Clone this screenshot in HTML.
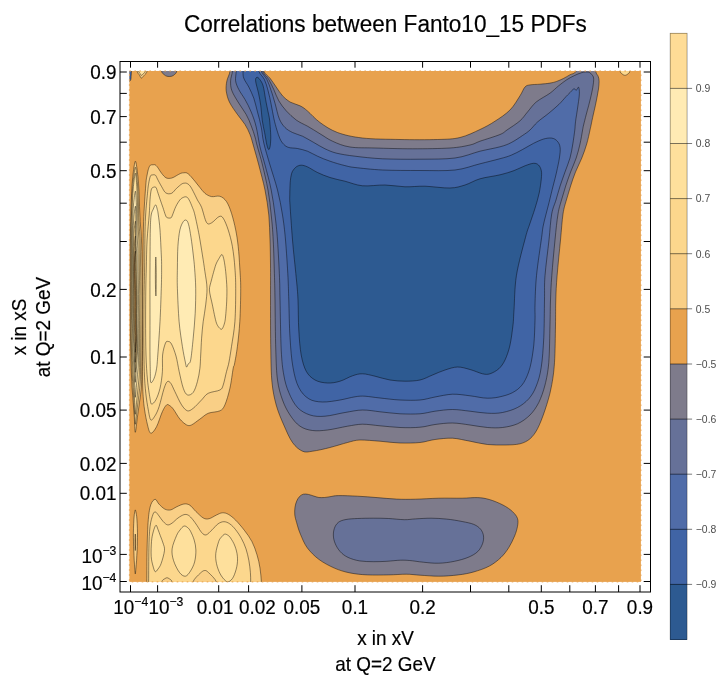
<!DOCTYPE html>
<html lang="en">
<head>
<meta charset="utf-8">
<title>Correlations between Fanto10_15 PDFs</title>
<style>html,body{margin:0;padding:0;background:#fff}svg{display:block}</style>
</head>
<body>
<svg width="721" height="679" viewBox="0 0 721 679">
<rect width="721" height="679" fill="#fff"/>
<defs><clipPath id="pc"><rect x="129.4" y="71" width="511.5" height="510.9"/></clipPath></defs>
<rect x="129.4" y="71" width="511.5" height="510.9" fill="#e8a24e"/>
<g clip-path="url(#pc)" stroke="#000" stroke-opacity=".62" stroke-width=".7" stroke-linejoin="round">
<path fill="#7e7b8b" d="M229.5 58C229.6 60.2 230.4 67.2 230 71C229.6 74.8 227.5 77.5 226.9 80.8C226.3 84 225.8 87.2 226.2 90.8C226.7 94.3 227.5 98 229.4 102C231.3 106 234.9 110.8 237.5 114.5C240.1 118.2 242.9 121.2 245 124.5C247.1 127.8 248.5 130.8 250 134.5C251.5 138.2 252.3 141.9 253.8 147C255.2 152.1 256.9 157.8 258.8 165C260.6 172.2 263.3 181.7 265 190C266.7 198.3 267.9 206.7 268.8 215C269.6 223.3 269.7 231.7 270 240C270.3 248.3 270.4 255 270.5 265C270.6 275 270.5 285.8 270.5 300C270.5 314.2 270.5 336.2 270.8 350C271 363.8 271.1 373.3 272 382.5C272.9 391.7 274.3 397.9 276.2 405C278.2 412.1 281 418.8 283.8 425C286.5 431.2 289.4 438.1 292.5 442.5C295.6 446.9 299.2 449.8 302.5 451.2C305.8 452.7 307.9 451.9 312.5 451.2C317.1 450.6 324.2 449 330 447.5C335.8 446 342.5 443.8 347.5 442.5C352.5 441.2 354.6 440.2 360 440C365.4 439.8 373.3 440.8 380 441.2C386.7 441.8 393.3 442.8 400 443C406.7 443.2 414.2 443.1 420 442.5C425.8 441.9 429.6 440.2 435 439.5C440.4 438.8 446.7 438 452.5 438.2C458.3 438.5 464.2 440.2 470 441.2C475.8 442.3 481.7 443.9 487.5 444.5C493.3 445.1 499.6 445.1 505 445C510.4 444.9 515.8 444.8 520 443.8C524.2 442.7 527.1 441.2 530 438.8C532.9 436.2 535 433.5 537.5 428.8C540 424 542.7 416.9 545 410C547.3 403.1 549.7 395.4 551.2 387.5C552.8 379.6 553.8 372.9 554.5 362.5C555.2 352.1 555.3 335.4 555.5 325C555.7 314.6 555.5 308.2 555.8 300C556 291.8 556.3 285.7 557.1 275.7C557.9 265.7 559.5 250.3 560.5 240C561.5 229.7 562 220.7 563 214C564 207.3 565.1 204.7 566.4 200C567.7 195.3 569.1 190.7 570.6 186C572.1 181.3 573.6 176.7 575.5 172C577.4 167.3 579.9 162.7 581.8 158C583.7 153.3 585.3 148.7 586.7 144C588.1 139.3 589.3 133.2 590 130C590.7 126.8 590.6 127.5 591.1 125C591.6 122.5 592.5 118.2 593.2 115C593.9 111.8 594.7 108.7 595.3 105.8C595.9 102.9 596.5 100.2 597 97.4C597.5 94.6 598.1 91.7 598.5 89C598.9 86.3 599.1 83.5 599.1 81.4C599.1 79.3 598.8 78.1 598.2 76.4C597.6 74.7 596.2 74.3 595.7 71.2C595.2 68.1 595.1 60.2 595 58L581 58C580.2 60.2 577.8 68.6 576 71.4C574.2 74.2 572.2 73.5 570.1 74.7C568 75.9 565.6 77.4 563.4 78.5C561.2 79.6 558.9 80.6 556.7 81.4C554.5 82.2 552.8 82.6 550 83.1C547.2 83.6 543.3 83.9 540 84.2C536.7 84.5 532.5 84.4 530 84.9C527.5 85.4 526.7 85.2 525 87C523.3 88.8 522.5 91.9 520 95.8C517.5 99.6 514.2 105.8 510 110C505.8 114.2 500 118 495 121.2C490 124.5 485.8 126.8 480 129.5C474.2 132.2 467.1 135.8 460 137.5C452.9 139.2 447.5 139.2 437.5 139.5C427.5 139.8 412.5 139.8 400 139.5C387.5 139.2 372.9 139.2 362.5 138C352.1 136.8 344.6 135.1 337.5 132.5C330.4 129.9 325 126.1 320 122.5C315 118.9 310.8 113.8 307.5 111C304.2 108.2 302.9 107.2 300 105.8C297.1 104.2 292.9 103.7 290 102C287.1 100.3 284.8 98.2 282.5 95.8C280.2 93.2 278.3 89.9 276.2 87C274.2 84.1 272.1 80.9 270 78.2C267.9 75.6 265 74.4 263.8 71C262.5 67.6 262.7 60.2 262.5 58Z"/>
<path fill="#667198" d="M233 58C232.9 60.2 232.9 67.2 232.5 71C232.1 74.8 230.7 77.5 230.6 80.8C230.5 84 230.5 87 231.9 90.8C233.3 94.5 236.4 99.3 238.8 103.2C241.1 107.2 244.2 110.8 246.2 114.5C248.3 118.2 249.8 122 251.2 125.8C252.7 129.5 254 133.5 255 137C256 140.5 256.2 142.3 257.5 147C258.8 151.7 260.8 157.8 262.5 165C264.2 172.2 266.5 181.7 268 190C269.5 198.3 270.4 206.7 271.2 215C272.1 223.3 272.7 229.6 273.2 240C273.8 250.4 274.2 267.5 274.5 277.5C274.8 287.5 274.8 287.9 275 300C275.2 312.1 275.3 336.7 275.8 350C276.2 363.3 276.4 371.7 277.5 380C278.6 388.3 280.4 394.2 282.5 400C284.6 405.8 287.1 410.6 290 415C292.9 419.4 296.2 423.7 300 426.2C303.8 428.8 307.9 429.9 312.5 430.5C317.1 431.1 321.7 430.7 327.5 430C333.3 429.3 341.7 427.2 347.5 426.2C353.3 425.3 357.1 424.3 362.5 424.2C367.9 424.2 373.8 425.2 380 425.8C386.2 426.3 393.3 427.2 400 427.5C406.7 427.8 414.2 427.8 420 427.2C425.8 426.8 429.6 425.2 435 424.5C440.4 423.8 446.7 422.9 452.5 423C458.3 423.1 464.2 424.2 470 425C475.8 425.8 482.1 427.1 487.5 427.5C492.9 427.9 497.5 428.1 502.5 427.5C507.5 426.9 512.9 425.8 517.5 423.8C522.1 421.7 526.5 418.5 530 415C533.5 411.5 536.2 407.5 538.8 402.5C541.2 397.5 543.3 391.7 545 385C546.7 378.3 547.9 372.5 548.8 362.5C549.6 352.5 549.7 335.4 550 325C550.3 314.6 550.2 308.2 550.5 300C550.8 291.8 551 285.7 551.8 275.7C552.5 265.7 554 250.3 555 240C556 229.7 556.9 220.7 558 214C559.1 207.3 560.2 204.7 561.5 200C562.8 195.3 564.2 190.7 565.7 186C567.2 181.3 568.9 176.7 570.6 172C572.4 167.3 574.6 162.7 576.2 158C577.8 153.3 578.9 148.7 580 144C581.1 139.3 582 133.2 582.6 130C583.2 126.8 583 127.5 583.6 125C584.2 122.5 585.3 118.2 586.1 115C586.9 111.8 587.8 109 588.6 105.8C589.4 102.6 590.3 99.2 591.1 95.7C591.9 92.2 592.8 87.7 593.2 84.8C593.6 81.9 593.8 79.8 593.6 78.1C593.4 76.4 592.7 75.7 591.9 74.7C591.1 73.7 590.3 72.6 588.6 72.2C586.9 71.8 584.3 72 581.9 72.6C579.5 73.2 576.8 74.4 574.3 75.6C571.8 76.8 569.4 78 566.8 79.7C564.1 81.4 561.2 83.8 558.4 86C555.6 88.2 553.7 90.5 550 93.2C546.3 95.9 540 98.9 536.2 102C532.5 105.1 530.2 108.9 527.5 112C524.8 115.1 523.4 117.8 520 120.8C516.6 123.8 510.3 127.7 507 130C503.7 132.3 504.5 132.6 500 134.5C495.5 136.4 485 139.5 480 141.2C475 143 475 143.9 470 145C465 146.1 459.6 147.4 450 148C440.4 148.6 425 148.8 412.5 148.8C400 148.8 385.4 148.3 375 148C364.6 147.7 357.1 148.1 350 147C342.9 145.9 337.5 143.5 332.5 141.2C327.5 139 324.2 136.2 320 133.8C315.8 131.2 311.5 128.5 307.5 126.2C303.5 124 299.8 122.6 296.2 120C292.7 117.4 289.2 114 286.2 110.8C283.3 107.5 280.8 104.3 278.8 100.8C276.7 97.2 275.4 93 273.8 89.5C272.1 86 270.6 82.6 268.8 79.5C266.9 76.4 263.8 74.6 262.5 71C261.2 67.4 261.2 60.2 261 58Z"/>
<path fill="#506ca8" d="M236.5 58C236.5 60.2 236.4 67.2 236.2 71C236.1 74.8 235.2 77.7 235.6 80.8C236 83.8 237.2 86.4 238.8 89.5C240.3 92.6 242.9 95.8 245 99.5C247.1 103.2 249.4 107.4 251.2 112C253.1 116.6 254.8 121.2 256.2 127C257.7 132.8 258.5 140.7 260 147C261.5 153.3 263.1 157.8 265 165C266.9 172.2 269.6 181.7 271.2 190C272.9 198.3 274 206.7 275 215C276 223.3 276.8 229.6 277.5 240C278.2 250.4 279.1 267.5 279.5 277.5C279.9 287.5 279.7 287.9 280 300C280.3 312.1 280.6 337.5 281.2 350C281.9 362.5 282.5 367.9 283.8 375C285 382.1 286.5 387.1 288.8 392.5C291 397.9 294 403.8 297.5 407.5C301 411.2 305.4 413.5 310 415C314.6 416.5 319.2 416.7 325 416.2C330.8 415.8 338.8 413.5 345 412.5C351.2 411.5 356.7 410.1 362.5 410C368.3 409.9 373.8 411.1 380 411.8C386.2 412.4 393.3 413.4 400 413.8C406.7 414.1 414.2 414.2 420 413.8C425.8 413.3 429.6 412 435 411.2C440.4 410.5 446.7 409.5 452.5 409.5C458.3 409.5 464.2 410.6 470 411.2C475.8 411.9 482.1 413 487.5 413.2C492.9 413.5 497.5 413.5 502.5 412.5C507.5 411.5 513.1 409.8 517.5 407.5C521.9 405.2 525.6 402.3 528.8 398.8C531.9 395.2 534.2 391.5 536.2 386.2C538.3 381 540 375.6 541.2 367.5C542.5 359.4 543.2 348.8 543.8 337.5C544.3 326.2 544.3 310.3 544.5 300C544.7 289.7 544.2 285.7 545 275.7C545.8 265.7 547.9 250.3 549 240C550.1 229.7 550.5 220.7 551.7 214C552.9 207.3 554.6 204.7 556 200C557.4 195.3 558.6 190.7 560.1 186C561.6 181.3 563.4 176.7 565 172C566.6 167.3 568.7 162.7 570 158C571.3 153.3 572 148.7 572.8 144C573.6 139.3 574.4 133.2 574.8 130C575.2 126.8 575 127 575.2 125C575.4 123 575.6 120.8 576 118.3C576.4 115.8 576.9 112.8 577.3 110C577.7 107.2 578.1 104.4 578.5 101.6C578.9 98.8 579.4 95.6 579.4 93.2C579.4 90.8 579.1 87.7 578.6 87.2C578.1 86.7 577 90.1 576.2 90.3C575.4 90.5 574.8 88.4 574 88.6C573.2 88.8 572.5 90.1 571.2 91.4C570 92.7 568.3 94.2 566.2 96.4C564.2 98.6 561.7 101.7 558.8 104.5C555.8 107.3 552.3 110.3 548.8 113.2C545.2 116.2 540.6 119.2 537.5 122C534.4 124.8 532.5 127.7 530 130C527.5 132.3 525.5 133.5 522.4 135.6C519.3 137.7 514.9 140.7 511.2 142.6C507.5 144.5 505.2 145.4 500 146.8C494.8 148.2 487.5 149.4 480 151.2C472.5 153.1 465 156.7 455 158C445 159.3 432.1 159.1 420 159.2C407.9 159.4 393.3 159.2 382.5 158.8C371.7 158.2 362.7 157.2 355 156.2C347.3 155.3 341.2 154.3 336.2 153.1C331.2 151.8 328.8 150.5 325 148.8C321.2 147 317.5 144.6 313.8 142.5C310 140.4 306 137.9 302.5 136.2C299 134.6 295.4 134 292.5 132.5C289.6 131 287.2 129.8 285 127.5C282.8 125.2 281.1 123 279.4 119C277.7 115 276.4 108 275 103.2C273.6 98.5 272.6 94.7 271.2 90.8C269.9 86.8 268.6 82.8 266.9 79.5C265.2 76.2 262.4 74.6 261.2 71C260.1 67.4 260.2 60.2 260 58Z"/>
<path fill="#4064a5" d="M243 58C243 60.2 242.9 67.6 243 71C243.1 74.4 242.8 75.6 243.8 78.2C244.7 80.9 247.1 83.7 248.8 87C250.4 90.3 252.3 94.1 253.8 98.2C255.2 102.4 256.2 107.2 257.5 112C258.8 116.8 260.2 121.8 261.2 127C262.3 132.2 262.3 136.7 263.8 143C265.2 149.3 267.7 157.2 270 165C272.3 172.8 275.4 181.7 277.5 190C279.6 198.3 281.2 206.7 282.5 215C283.8 223.3 284.6 229.6 285.5 240C286.4 250.4 287.5 267.5 288 277.5C288.5 287.5 288.4 290 288.8 300C289.1 310 289.3 326.2 290 337.5C290.7 348.8 291.5 359.2 293 367.5C294.5 375.8 296.1 382.3 298.8 387.5C301.4 392.7 304.8 396.3 308.8 398.8C312.7 401.2 317.3 401.8 322.5 402C327.7 402.2 334.6 400.9 340 400C345.4 399.1 350.8 397.4 355 396.8C359.2 396.1 360.8 396 365 396.2C369.2 396.5 374.2 397.4 380 398C385.8 398.6 393.3 399.7 400 400C406.7 400.3 414.2 400.5 420 400C425.8 399.5 429.6 398 435 397C440.4 396 446.7 394.5 452.5 394.2C458.3 394 464.2 395.1 470 395.8C475.8 396.4 482.1 398.2 487.5 398.2C492.9 398.3 497.9 397.4 502.5 396.2C507.1 395.1 511.5 393.5 515 391.2C518.5 389 521.2 386.5 523.8 382.5C526.2 378.5 528.3 373.8 530 367.5C531.7 361.2 532.9 352.9 533.8 345C534.6 337.1 534.8 326.7 535 320C535.2 313.3 534.8 312.4 535 305C535.2 297.6 535.4 287 536.5 275.7C537.6 264.4 540.5 245.8 541.6 237.4C542.8 229 542.2 230.8 543.4 225C544.6 219.2 547.4 209.2 549 202.7C550.6 196.2 551.8 191.1 553.1 186C554.4 180.9 555.6 176.7 556.6 172C557.6 167.3 558.8 162.1 559.4 158C560 153.9 560.5 150.3 560.1 147.5C559.8 144.7 558.7 142.8 557.3 141.2C555.9 139.6 554 138.4 551.7 138.1C549.4 137.8 546.4 138.2 543.4 139.1C540.4 140 537.1 141.6 533.6 143.3C530.1 145.1 526.1 147.6 522.4 149.6C518.7 151.6 514.9 153.7 511.2 155.2C507.5 156.7 505.2 157.3 500 158.7C494.8 160.1 487.5 161.9 480 163.8C472.5 165.6 465 168.9 455 170C445 171.1 432.1 170.5 420 170.5C407.9 170.5 393.3 170.5 382.5 170C371.7 169.5 361.3 168.2 355 167.5C348.7 166.8 349.1 166.6 344.9 165.6C340.7 164.6 334.6 162.8 330 161.2C325.4 159.7 321.2 157.9 317.5 156.2C313.8 154.6 310.8 152.5 307.5 151.2C304.2 150 300.6 149.1 297.5 148.5C294.4 147.9 291 148.2 288.8 147.5C286.5 146.8 285.2 145.9 283.8 144.4C282.3 142.9 281.1 141.2 280 138.8C278.9 136.3 277.9 133.4 276.9 130C275.9 126.6 274.7 122.5 273.8 118.2C272.8 114 272.2 109.1 271.2 104.5C270.3 99.9 269.2 94.9 268.1 90.8C267 86.6 266 82.8 264.4 79.5C262.8 76.2 259.9 74.6 258.8 71C257.6 67.4 257.7 60.2 257.5 58Z"/>
<path fill="#2d5a91" d="M301.2 165.2C299.4 165.2 297.7 165.9 296.2 166.9C294.8 167.9 293.4 169.7 292.5 171.2C291.6 172.8 291.4 174.4 291 176.2C290.6 178.1 290.5 179.4 290.2 182.5C290 185.6 289.8 191.3 289.8 195C289.7 198.7 289.5 197.4 290 204.9C290.5 212.4 291.5 227.9 292.5 240C293.5 252.1 295.3 267.5 296.2 277.5C297.2 287.5 297.6 291.2 298 300C298.4 308.8 298.2 320.8 298.8 330C299.3 339.2 300 348.1 301.2 355C302.5 361.9 304 367.1 306.2 371.2C308.5 375.4 311.5 378 315 380C318.5 382 323.3 382.8 327.5 383C331.7 383.2 335.8 382.5 340 381.2C344.2 380 348.8 377 352.5 375.8C356.2 374.5 358.8 373.7 362.5 373.8C366.2 373.8 370.4 375.2 375 376.2C379.6 377.3 385 379.2 390 380C395 380.8 400 381.2 405 381.2C410 381.2 415.4 381 420 380C424.6 379 428.3 376.7 432.5 375C436.7 373.3 440.8 371.3 445 370C449.2 368.7 453.3 367.1 457.5 367C461.7 366.9 465.8 368.4 470 369.5C474.2 370.6 479.2 373 482.5 373.8C485.8 374.5 487.3 374.6 490 373.8C492.7 372.9 496.2 371 498.8 368.8C501.2 366.5 503.1 364 505 360C506.9 356 508.7 350.8 510 345C511.3 339.2 512.3 330.8 513 325C513.7 319.2 513.4 318.2 514 310C514.6 301.8 514.5 287.8 516.4 275.7C518.3 263.6 523.3 245.8 525.5 237.4C527.7 229 527.8 229.8 529.4 225C531 220.2 533.4 213.6 535 208.3C536.6 203 538.2 197.9 539.2 193C540.2 188.1 540.9 182.7 541.3 179C541.6 175.3 541.8 172.9 541.3 170.6C540.8 168.3 539.8 166.2 538.5 165C537.2 163.8 535.8 163.2 533.6 163.3C531.4 163.4 528.5 164.5 525.2 165.7C521.9 166.9 518.2 169.1 514 170.6C509.8 172.1 505.7 173.4 500 174.8C494.3 176.2 485.8 177.1 480 178.8C474.2 180.4 470 183.5 465 185C460 186.5 456.7 187.8 450 188C443.3 188.2 432.5 186.5 425 186.2C417.5 186 411.7 187 405 186.8C398.3 186.5 392.1 185.2 385 185C377.9 184.8 369.2 186.4 362.5 185.8C355.8 185.1 350.3 182.6 344.9 181.2C339.5 179.9 334.6 179 330 177.5C325.4 176 321.2 174.3 317.5 172.5C313.8 170.7 310.2 168.1 307.5 166.9C304.8 165.7 303.1 165.2 301.2 165.2Z"/>
<path fill="#2d5a91" d="M257 77.3C256.3 77.5 255.3 78.1 255.6 80.8C255.8 83.4 257.6 89.1 258.5 93.2C259.4 97.4 260.2 101.3 260.8 105.8C261.4 110.2 261.6 115.5 262.2 120C262.8 124.5 263.8 128.3 264.6 132.5C265.4 136.7 266.2 142.2 266.9 145C267.6 147.8 268.2 149.4 268.8 149.6C269.3 149.8 269.9 147.6 270.2 146C270.5 144.4 270.6 142.2 270.7 140C270.8 137.8 270.8 135.8 270.6 132.5C270.4 129.2 270 123.4 269.6 120C269.2 116.6 268.8 115.4 268.1 112C267.4 108.6 266.4 103.9 265.6 99.5C264.8 95.1 264.1 89.1 263.1 85.8C262.1 82.4 260.8 80.9 259.8 79.5C258.8 78.1 257.7 77.1 257 77.3Z"/>
<path fill="#7e7b8b" d="M303.3 494.2C301.8 494.6 300.5 495.5 299.4 496.7C298.3 497.9 297.4 499.4 296.7 501.1C296 502.9 295.3 504.9 295 507.2C294.7 509.5 294.5 512.5 294.8 515C295.1 517.5 295.7 519.3 296.6 522.5C297.5 525.7 298.6 529.9 300.4 534.1C302.2 538.3 304.1 543.5 307.2 547.7C310.3 551.9 314.3 555.9 318.8 559.3C323.3 562.7 329.2 565.8 334.4 568.1C339.6 570.4 344.4 571.8 349.9 572.9C355.4 574 360.9 574.6 367.4 574.9C373.9 575.2 382.2 575 388.7 574.9C395.2 574.8 401 574.2 406.2 574.2C411.4 574.2 414.6 574.9 420 575.2C425.4 575.5 432.4 576.2 438.8 576.2C445.2 576.2 452.5 575.6 458.3 574.9C464.1 574.2 468.6 573.4 473.8 571.9C479 570.4 484.8 568.5 489.3 566.1C493.8 563.7 497.8 560.5 501 557.4C504.2 554.3 506.4 551.3 508.7 547.7C511 544.1 513.1 539.6 514.6 536C516.1 532.4 517 529.2 517.5 526.3C518 523.4 518.3 520.9 517.5 518.5C516.7 516.1 515 514 512.6 511.7C510.2 509.4 506.8 507 502.9 505C499 503 493.5 500.7 489.3 499.5C485.1 498.3 482.2 497.8 477.7 497.6C473.2 497.4 468.6 498.1 462.1 498.2C455.6 498.3 446.6 498 438.8 498.2C431 498.4 422.6 499 415.5 499.2C408.4 499.4 402.9 499.4 396.5 499.1C390.1 498.8 383.6 498.1 377.1 497.6C370.6 497.1 364.2 496.5 357.7 496.2C351.2 495.9 342.9 495.5 338.3 495.6C333.7 495.7 332.3 496.4 330 496.7C327.7 497 326.2 497.4 324.4 497.5C322.5 497.6 320.6 497.7 318.9 497.5C317.1 497.3 315.7 496.6 313.9 496.1C312.1 495.6 310.1 494.7 308.3 494.4C306.5 494.1 304.8 493.8 303.3 494.2Z"/>
<path fill="#667198" d="M338.3 522.4C336.4 523.9 335.2 526 334.4 528.3C333.6 530.6 333.2 533.4 333.4 536C333.5 538.6 334.2 541.2 335.3 543.8C336.4 546.4 338.1 549.3 340.2 551.6C342.3 553.9 344.8 555.9 348 557.4C351.2 558.9 355.4 560.2 359.6 560.9C363.8 561.6 368.7 561.6 373.2 561.7C377.7 561.8 382.3 561.5 386.8 561.3C391.3 561 396.6 560.3 400.4 560.2C404.2 560.1 405.9 560.2 409.7 560.5C413.5 560.8 418.4 561.8 423.3 562.2C428.2 562.7 433.6 563.4 438.8 563.2C444 563.1 449.5 562.3 454.4 561.3C459.3 560.3 464.1 559 468 557.4C471.9 555.8 475.3 553.9 477.7 551.6C480.1 549.3 481.5 546.4 482.5 543.8C483.5 541.2 483.8 538.4 483.5 536C483.2 533.6 482.2 531.1 480.6 529.2C479 527.3 476.9 525.7 473.8 524.4C470.7 523.1 466.6 522.4 462.1 521.5C457.6 520.6 451.8 519.6 446.6 519.1C441.4 518.6 436.3 518.2 431.1 518.2C425.9 518.2 420 518.6 415.5 518.9C411 519.1 408.8 519.8 404.3 519.7C399.8 519.6 393.9 518.8 388.7 518.5C383.5 518.2 378.4 518.2 373.2 518.2C368 518.2 362.2 518.3 357.7 518.5C353.2 518.7 349.2 518.9 346 519.5C342.8 520.1 340.2 520.9 338.3 522.4Z"/>
<path fill="#f9cf86" d="M143 268C143.2 254.9 143.1 235.4 143.6 221.6C144.1 207.8 145.2 192.8 145.8 185C146.4 177.2 146.6 177.8 147.1 175C147.6 172.2 148.1 169.9 148.7 168.3C149.2 166.7 149.7 165.8 150.4 165.2C151.1 164.6 152.2 164.8 153 164.8C153.8 164.8 154.5 164.4 155.4 165C156.3 165.6 157.3 166.9 158.3 168.3C159.3 169.7 160.3 171.7 161.6 173.3C162.9 174.9 164.5 177.1 166.2 177.9C167.9 178.7 169.9 178.4 171.6 178.1C173.3 177.8 174.7 176.6 176.2 175.8C177.7 175 179.5 173.8 180.8 173.3C182.1 172.8 182.8 172.9 183.8 172.8C184.8 172.7 185.6 172.5 186.6 172.9C187.6 173.3 188.5 174 189.9 175.4C191.3 176.8 193.2 179.2 194.9 181.2C196.6 183.2 198.2 185.5 199.9 187.5C201.6 189.5 203 191.8 204.9 193.3C206.8 194.8 209 196.1 211.5 196.6C214 197.1 217.4 195.5 219.9 196.3C222.4 197.1 224.6 198.8 226.5 201.6C228.4 204.4 230 208.6 231.5 213.3C233 218 234.6 224.4 235.7 229.9C236.8 235.4 237.5 240.2 238.2 246.5C238.9 252.8 239.4 261 239.8 268C240.2 275 240.7 279.4 240.7 288.3C240.7 297.2 240.4 311.9 239.8 321.6C239.2 331.3 238.3 339.4 237.4 346.5C236.5 353.6 235.2 360.4 234.5 364C233.8 367.6 234 364.2 233.2 368.3C232.4 372.4 231.3 382.2 229.9 388.3C228.5 394.4 226.6 401.1 224.9 404.9C223.2 408.6 222.7 409.4 219.9 410.8C217.1 412.2 211.5 411.9 208.2 413.3C204.9 414.7 202.7 417.2 199.9 419.1C197.1 421 193.8 423.9 191.6 424.9C189.4 425.9 188.5 425.9 186.6 424.9C184.7 423.9 182.1 421.7 179.9 419.1C177.7 416.5 175 411.3 173.3 409.1C171.6 406.9 171 406.5 169.9 405.8C168.8 405.1 167.8 403.9 166.6 404.9C165.3 405.9 164.1 408 162.4 411.6C160.7 415.2 158.5 423 156.6 426.6C154.7 430.2 152.3 433.5 150.8 433.2C149.3 432.9 148.5 428.8 147.5 424.9C146.5 421 145.3 414.6 144.6 409.9C143.9 405.2 143.5 401.6 143.2 396.6C142.9 391.6 142.7 389.4 142.6 380C142.5 370.6 142.5 353.3 142.5 340C142.5 326.7 142.5 312 142.6 300C142.7 288 142.8 281.1 143 268Z"/>
<path fill="#fcd78d" d="M144.6 268C144.8 254.9 144.8 234 145.3 221.6C145.8 209.2 146.9 199.7 147.5 193.3C148.1 186.9 148.2 186.2 148.7 183.3C149.2 180.5 149.8 177.6 150.4 176.2C151 174.8 151.3 175.2 152.1 175C152.9 174.8 154.5 174.5 155.4 175.2C156.3 175.9 156.5 177.2 157.5 179.1C158.5 181 160.2 184.3 161.6 186.6C163 188.9 164.1 191.8 165.8 192.9C167.5 194 169.8 194.1 171.6 193.3C173.4 192.5 174.9 189.8 176.6 188.3C178.3 186.8 180.3 184.9 181.6 184.1C182.9 183.2 183.4 183.3 184.2 183.2C185 183.1 185.6 182.9 186.6 183.3C187.6 183.7 188.8 184.4 189.9 185.8C191 187.2 192.1 189.2 193.3 191.6C194.6 193.9 196 197.3 197.4 199.9C198.8 202.5 200.1 203.7 201.6 207.4C203.1 211.2 204.8 219.8 206.5 222.4C208.2 225 209.4 223.9 211.5 222.9C213.6 221.9 217.1 217.4 219 216.6C220.9 215.8 221.7 216 223.2 218.2C224.7 220.4 226.7 225.2 228.2 229.9C229.7 234.6 231.3 240.2 232.4 246.5C233.5 252.8 234.4 261 234.9 268C235.4 275 235.7 279.4 235.7 288.3C235.7 297.2 235.6 311.9 234.9 321.6C234.2 331.3 232.5 339.8 231.5 346.5C230.5 353.2 229.8 357.8 229 362C228.2 366.2 227.5 367.8 226.5 371.6C225.5 375.4 224.3 381.9 223.2 385C222.1 388.1 222.4 388.6 219.9 390C217.4 391.4 211.2 391.7 208.2 393.3C205.1 394.9 204.1 397.4 201.6 399.9C199.1 402.4 195.6 406.5 193.2 408.3C190.8 410.1 189.3 411.4 187.4 410.8C185.5 410.2 183.7 408.1 181.6 404.9C179.5 401.7 176.7 395.2 174.9 391.6C173.1 388 172.1 385 170.8 383.3C169.6 381.6 168.5 380.8 167.4 381.6C166.3 382.4 165.5 384.1 164.1 388.3C162.7 392.5 160.6 402 159.1 406.6C157.6 411.2 156.4 413.6 155 415.8C153.6 418 151.9 420.9 150.8 419.9C149.7 418.9 149.1 414.3 148.3 409.9C147.5 405.5 146.5 399.7 145.8 393.3C145.1 386.9 144.6 380.5 144.3 371.6C144 362.7 143.9 351.9 143.8 340C143.8 328.1 143.9 312 144 300C144.1 288 144.4 281.1 144.6 268Z"/>
<path fill="#fee09c" d="M146.3 268C146.5 259.7 146.6 248.8 147.1 240C147.6 231.2 148.7 221.7 149.2 215C149.7 208.3 149.7 204.1 150 199.9C150.3 195.7 150.7 192.1 151.2 190C151.7 187.9 152.1 187.9 152.9 187.5C153.7 187.1 155 186.6 155.8 187.3C156.6 188 156.8 189.6 157.5 191.6C158.2 193.6 159.1 196.5 160 199.1C160.9 201.7 162 204.8 162.9 207.4C163.8 210.1 164.7 213.3 165.4 215C166.1 216.7 166.1 217.1 167 217.6C167.9 218.1 169.9 218.3 170.8 217.9C171.7 217.5 171.7 216.9 172.5 215C173.3 213.1 174.6 209.1 175.8 206.6C177 204.1 178.7 201.4 179.9 199.9C181.2 198.4 182.2 197.9 183.3 197.4C184.4 196.9 185.6 196.6 186.6 197C187.6 197.4 188.1 198.2 189.1 199.9C190.1 201.6 191.4 204.9 192.4 207.4C193.4 209.9 193.8 210.4 194.9 215C196 219.6 197.8 228.2 199.1 234.9C200.3 241.6 201.4 248.8 202.4 254.9C203.4 261 204.1 266 204.9 271.6C205.7 277.2 206.9 282.8 207 288.3C207.1 293.9 206.3 299.3 205.7 304.9C205.1 310.4 203.9 316.1 203.2 321.6C202.5 327.2 202 332.6 201.6 338.2C201.2 343.8 201 350 200.7 355C200.4 360 200.4 363.9 199.9 368.3C199.4 372.7 198.5 377.6 197.4 381.6C196.3 385.6 194.9 390.2 193.2 392.4C191.5 394.6 189.1 395.6 187.4 394.9C185.8 394.2 184.7 392.2 183.3 388.3C181.9 384.4 180.4 377 179.2 371.6C178 366.2 177.3 360.6 176 356C174.7 351.4 172.8 346.4 171.5 344C170.2 341.6 169.3 341.7 168.3 341.5C167.3 341.3 166.4 340.8 165.5 343C164.6 345.2 163.1 350.2 162.6 355C162.1 359.8 162.8 366.1 162.4 371.6C162 377.2 161.1 383.6 160 388.3C158.9 393 157.2 397.3 155.8 399.9C154.4 402.5 152.6 404.3 151.6 404C150.6 403.7 150.7 402.3 150 398.3C149.3 394.3 148.2 387.2 147.5 380C146.8 372.8 146.3 365 146 355C145.7 345 145.6 330.8 145.6 320C145.6 309.2 145.7 298.7 145.8 290C145.9 281.3 146.1 276.3 146.3 268Z"/>
<path fill="#fee09c" d="M222 254.5C221.3 254.3 219.8 257.1 219 258.5C218.2 259.9 216.7 262.1 215.7 265C214.7 267.9 212.3 276.7 211.5 280C210.7 283.3 209.3 286.7 209.4 290C209.5 293.3 211.5 300.5 212.4 304.9C213.3 309.3 215.3 319.9 216.5 323.2C217.7 326.5 220.4 329.5 221.5 329.3C222.6 329.1 224.2 324.9 224.9 321.6C225.6 318.3 226.2 309.3 226.5 304.9C226.8 300.5 227 292.7 226.9 288.3C226.8 283.9 226.1 275.4 225.7 271.6C225.3 267.8 224.5 262.3 224 260C223.5 257.7 222.7 254.7 222 254.5Z"/>
<path fill="#ffebb4" d="M155.6 204.9C154.9 204.8 154 207.4 153.3 209.1C152.6 210.8 151.7 211.5 151.2 215C150.7 218.5 150.5 221.1 150.3 229.9C150.1 238.7 150.1 253 150 268C149.9 283 150 305.5 150 320C150 334.5 149.9 346.4 150 355C150.1 363.6 150.2 367 150.3 371.6C150.4 376.2 150.2 381.4 150.8 382.5C151.4 383.6 153.1 380.7 154.1 378.3C155.1 375.9 156 372.2 156.6 368.3C157.2 364.4 157.2 362.8 157.8 355C158.4 347.2 159.4 332.7 160 321.6C160.6 310.5 161 297.2 161.3 288.3C161.6 279.4 161.6 273.6 161.6 268C161.6 262.4 161.6 261.2 161.3 254.9C161 248.6 160.5 236.6 160 229.9C159.5 223.2 158.8 218.4 158.3 215C157.9 211.6 157.8 211.2 157.3 209.5C156.9 207.8 156.3 205 155.6 204.9Z"/>
<path fill="#ffebb4" d="M186.6 220.4C185.6 219.6 184.4 220 183.3 221.6C182.2 223.2 180.8 225.8 179.9 229.9C179 234.1 178.3 240.2 177.9 246.5C177.5 252.8 177.5 261 177.4 268C177.3 275 177.1 279.4 177.4 288.3C177.7 297.2 178.3 311.9 179.1 321.6C179.9 331.3 181.4 339.8 182.4 346.5C183.4 353.2 184.6 358.6 185.3 362C186 365.4 186.1 366.7 186.6 367C187.1 367.3 187.5 365.2 188.2 364C188.9 362.8 189.9 364.2 190.7 359.9C191.5 355.6 192.4 346 193.2 338.2C193.9 330.4 194.8 321.6 195.2 313.3C195.6 305 195.8 295.8 195.7 288.3C195.6 280.8 195 273.7 194.6 268.3C194.2 262.9 193.9 260.5 193.4 256C192.9 251.5 192.3 246.4 191.6 241.5C190.9 236.6 189.9 230.1 189.1 226.6C188.3 223.1 187.6 221.2 186.6 220.4Z"/>
<path fill="#fedc96" d="M155.8 257C155.7 257.3 155.5 264.8 155.4 270C155.3 275.2 155.4 283.7 155.5 288C155.6 292.3 155.8 296 155.9 296C156 296 156.1 292.7 156.2 288C156.2 283.3 156.3 273.2 156.2 268C156.1 262.8 155.9 256.7 155.8 257Z"/>
<path fill="#f9cf86" d="M135.4 161.2C134.6 161.2 133.4 171.3 132.8 176.3C132.2 181.3 132 186.3 131.7 191.4C131.4 196.4 131.3 201.4 131.1 206.4C131 211.4 130.8 216.5 130.7 221.5C130.5 226.5 130.4 231.5 130.4 236.5C130.3 241.6 130.3 246.6 130.3 251.6C130.3 256.6 130.3 261.6 130.3 266.7C130.3 271.7 130.3 276.7 130.3 281.7C130.3 286.7 130.3 291.8 130.3 296.8C130.3 301.8 130.3 306.8 130.3 311.8C130.3 316.9 130.3 321.9 130.3 326.9C130.3 331.9 130.5 336.9 130.6 341.9C130.7 347 130.8 352 130.9 357C131.1 362 131.1 367 131.3 372.1C131.5 377.1 131.7 382.1 132 387.1C132.4 392.1 132.8 397.2 133.2 402.2C133.6 407.2 133.9 412.2 134.3 417.2C134.6 422.3 134.8 432.3 135.3 432.3C135.8 432.3 136.7 422.3 137.4 417.2C138.1 412.2 138.8 407.2 139.5 402.2C140.2 397.2 141 392.1 141.4 387.1C141.8 382.1 141.6 377.1 141.7 372.1C141.8 367 141.8 362 141.9 357C141.9 352 142 347 142 341.9C142.1 336.9 142.1 331.9 142.1 326.9C142.2 321.9 142.3 316.9 142.3 311.8C142.3 306.8 142.4 301.8 142.4 296.8C142.3 291.8 142.2 286.7 142.2 281.7C142.1 276.7 142 271.7 142 266.7C141.9 261.6 141.9 256.6 141.8 251.6C141.7 246.6 141.6 241.6 141.3 236.5C141.1 231.5 140.5 226.5 140.2 221.5C139.9 216.5 139.7 211.4 139.5 206.4C139.3 201.4 139.3 196.4 139 191.4C138.7 186.3 138.5 181.3 137.9 176.3C137.3 171.3 136.2 161.2 135.4 161.2Z"/>
<path fill="#fcd78d" d="M135.4 167.2C134.7 167.2 133.7 176.8 133.1 181.5C132.6 186.3 132.3 191.1 132.1 195.8C131.8 200.6 131.7 205.3 131.6 210.1C131.4 214.9 131.3 219.6 131.2 224.4C131.1 229.1 131 233.9 131 238.7C130.9 243.4 130.9 248.2 130.9 252.9C130.9 257.7 130.9 262.5 130.9 267.2C130.9 272 130.9 276.7 130.9 281.5C131 286.3 131 291 131 295.8C131 300.5 131 305.3 131 310.1C131 314.8 130.9 319.6 130.9 324.3C131 329.1 131.1 333.9 131.2 338.6C131.3 343.4 131.4 348.1 131.5 352.9C131.7 357.7 131.7 362.4 131.9 367.2C132 371.9 132.3 376.7 132.6 381.5C132.8 386.2 133.2 391 133.5 395.7C133.9 400.5 134.1 405.3 134.4 410C134.7 414.8 134.9 424.3 135.3 424.3C135.7 424.3 136.4 414.8 137 410C137.6 405.3 138.2 400.5 138.8 395.7C139.3 391 140 386.2 140.3 381.5C140.6 376.7 140.5 371.9 140.5 367.2C140.6 362.4 140.6 357.7 140.6 352.9C140.6 348.1 140.7 343.4 140.7 338.6C140.7 333.9 140.7 329.1 140.8 324.3C140.8 319.6 140.9 314.8 140.9 310.1C140.9 305.3 141 300.5 141 295.8C140.9 291 140.8 286.3 140.8 281.5C140.7 276.7 140.7 272 140.6 267.2C140.5 262.5 140.5 257.7 140.4 252.9C140.3 248.2 140.3 243.4 140.1 238.7C139.8 233.9 139.3 229.1 139.1 224.4C138.8 219.6 138.7 214.9 138.6 210.1C138.4 205.3 138.4 200.6 138.2 195.8C138 191.1 137.8 186.3 137.3 181.5C136.9 176.8 136.1 167.2 135.4 167.2Z"/>
<path fill="#fee09c" d="M135.4 173.2C134.8 173.2 133.9 182.2 133.4 186.6C132.9 191.1 132.7 195.6 132.5 200C132.3 204.5 132.2 209 132 213.4C131.9 217.9 131.8 222.4 131.7 226.8C131.6 231.3 131.6 235.7 131.6 240.2C131.5 244.7 131.5 249.1 131.6 253.6C131.6 258.1 131.6 262.5 131.6 267C131.6 271.5 131.6 275.9 131.6 280.4C131.6 284.8 131.6 289.3 131.6 293.8C131.6 298.2 131.6 302.7 131.6 307.2C131.6 311.6 131.6 316.1 131.6 320.6C131.6 325 131.7 329.5 131.8 333.9C131.9 338.4 132 342.9 132.1 347.3C132.2 351.8 132.3 356.3 132.4 360.7C132.6 365.2 132.8 369.7 133.1 374.1C133.3 378.6 133.6 383.1 133.9 387.5C134.1 392 134.4 396.4 134.6 400.9C134.8 405.4 135 414.3 135.3 414.3C135.6 414.3 136.2 405.4 136.7 400.9C137.1 396.4 137.7 392 138.1 387.5C138.5 383.1 139.1 378.6 139.3 374.1C139.6 369.7 139.4 365.2 139.4 360.7C139.4 356.3 139.4 351.8 139.5 347.3C139.5 342.9 139.5 338.4 139.5 333.9C139.5 329.5 139.5 325 139.5 320.6C139.6 316.1 139.6 311.6 139.6 307.2C139.7 302.7 139.7 298.2 139.7 293.8C139.7 289.3 139.6 284.8 139.5 280.4C139.5 275.9 139.4 271.5 139.4 267C139.3 262.5 139.3 258.1 139.2 253.6C139.2 249.1 139.1 244.7 138.9 240.2C138.7 235.7 138.3 231.3 138.1 226.8C137.9 222.4 137.8 217.9 137.7 213.4C137.6 209 137.6 204.5 137.4 200C137.2 195.6 137.1 191.1 136.8 186.6C136.5 182.2 136 173.2 135.4 173.2Z"/>
<path fill="#ffebb4" d="M135.4 191.2C135 191.2 134.1 198.9 133.7 202.7C133.2 206.5 133.1 210.3 132.9 214.1C132.7 218 132.6 221.8 132.5 225.6C132.4 229.4 132.3 233.2 132.2 237C132.2 240.9 132.2 244.7 132.2 248.5C132.2 252.3 132.2 256.1 132.2 259.9C132.2 263.7 132.2 267.6 132.2 271.4C132.2 275.2 132.2 279 132.2 282.8C132.3 286.6 132.3 290.5 132.3 294.3C132.3 298.1 132.3 301.9 132.3 305.7C132.3 309.5 132.2 313.4 132.2 317.2C132.3 321 132.4 324.8 132.5 328.6C132.5 332.4 132.6 336.2 132.7 340.1C132.8 343.9 132.9 347.7 133 351.5C133.2 355.3 133.4 359.1 133.6 363C133.8 366.8 134 370.6 134.2 374.4C134.4 378.2 134.6 382 134.8 385.9C135 389.7 135 397.3 135.3 397.3C135.6 397.3 136 389.7 136.4 385.9C136.7 382 137.1 378.2 137.5 374.4C137.8 370.6 138.3 366.8 138.4 363C138.6 359.1 138.4 355.3 138.4 351.5C138.4 347.7 138.4 343.9 138.4 340.1C138.4 336.2 138.4 332.4 138.4 328.6C138.4 324.8 138.4 321 138.4 317.2C138.4 313.4 138.4 309.5 138.5 305.7C138.5 301.9 138.5 298.1 138.5 294.3C138.5 290.5 138.4 286.6 138.4 282.8C138.3 279 138.3 275.2 138.2 271.4C138.2 267.6 138.2 263.7 138.1 259.9C138 256.1 138 252.3 137.8 248.5C137.7 244.7 137.3 240.9 137.2 237C137 233.2 136.9 229.4 136.9 225.6C136.8 221.8 136.8 218 136.7 214.1C136.6 210.3 136.5 206.5 136.3 202.7C136.1 198.9 135.8 191.2 135.4 191.2Z"/>
<path fill="#fee09c" d="M135.4 206.2C135.1 206.2 134.3 212.8 133.9 216C133.6 219.3 133.4 222.6 133.3 225.8C133.1 229.1 133.1 232.3 133 235.6C132.9 238.9 132.8 242.1 132.8 245.4C132.7 248.6 132.8 251.9 132.8 255.2C132.8 258.4 132.8 261.7 132.8 264.9C132.8 268.2 132.8 271.5 132.8 274.7C132.9 278 132.9 281.2 132.9 284.5C132.9 287.8 132.9 291 132.9 294.3C132.9 297.5 132.9 300.8 132.9 304.1C132.9 307.3 132.9 310.6 132.9 313.8C132.9 317.1 133 320.4 133.1 323.6C133.2 326.9 133.2 330.1 133.3 333.4C133.4 336.7 133.5 339.9 133.6 343.2C133.7 346.4 133.9 349.7 134.1 353C134.3 356.2 134.4 359.5 134.6 362.7C134.7 366 134.8 369.3 134.9 372.5C135.1 375.8 135.1 382.3 135.3 382.3C135.5 382.3 135.8 375.8 136.1 372.5C136.3 369.3 136.6 366 136.9 362.7C137.1 359.5 137.4 356.2 137.5 353C137.6 349.7 137.4 346.4 137.4 343.2C137.3 339.9 137.3 336.7 137.3 333.4C137.3 330.1 137.3 326.9 137.2 323.6C137.2 320.4 137.2 317.1 137.2 313.8C137.2 310.6 137.3 307.3 137.3 304.1C137.3 300.8 137.3 297.5 137.3 294.3C137.3 291 137.2 287.8 137.2 284.5C137.2 281.2 137.1 278 137.1 274.7C137 271.5 137 268.2 137 264.9C136.9 261.7 136.9 258.4 136.8 255.2C136.6 251.9 136.3 248.6 136.2 245.4C136.1 242.1 136.1 238.9 136 235.6C136 232.3 136 229.1 136 225.8C135.9 222.6 135.9 219.3 135.8 216C135.7 212.8 135.7 206.2 135.4 206.2Z"/>
<path fill="#fcd78d" d="M135.4 221.2C135.2 221.2 134.5 226.8 134.2 229.6C133.9 232.4 133.8 235.2 133.7 238C133.6 240.8 133.5 243.6 133.4 246.4C133.4 249.2 133.3 252 133.3 254.8C133.3 257.6 133.3 260.4 133.4 263.2C133.4 266 133.4 268.8 133.4 271.6C133.4 274.4 133.5 277.2 133.5 280C133.5 282.8 133.5 285.6 133.5 288.4C133.6 291.2 133.6 294 133.6 296.8C133.6 299.6 133.6 302.4 133.6 305.2C133.6 308 133.5 310.8 133.5 313.6C133.6 316.4 133.6 319.2 133.7 321.9C133.8 324.7 133.9 327.5 133.9 330.3C134 333.1 134 335.9 134.2 338.7C134.3 341.5 134.5 344.3 134.6 347.1C134.7 349.9 134.8 352.7 134.9 355.5C135 358.3 135 361.1 135.1 363.9C135.2 366.7 135.2 372.3 135.3 372.3C135.4 372.3 135.7 366.7 135.9 363.9C136.1 361.1 136.3 358.3 136.5 355.5C136.7 352.7 136.9 349.9 136.9 347.1C137 344.3 136.8 341.5 136.8 338.7C136.7 335.9 136.7 333.1 136.7 330.3C136.6 327.5 136.6 324.7 136.6 321.9C136.5 319.2 136.5 316.4 136.5 313.6C136.5 310.8 136.6 308 136.6 305.2C136.6 302.4 136.6 299.6 136.6 296.8C136.6 294 136.6 291.2 136.5 288.4C136.5 285.6 136.4 282.8 136.4 280C136.4 277.2 136.4 274.4 136.3 271.6C136.3 268.8 136.2 266 136.1 263.2C136 260.4 135.8 257.6 135.7 254.8C135.6 252 135.6 249.2 135.5 246.4C135.5 243.6 135.5 240.8 135.5 238C135.5 235.2 135.5 232.4 135.5 229.6C135.5 226.8 135.6 221.2 135.4 221.2Z"/>
<path fill="#f9cf86" d="M135.4 236.2C135.3 236.2 134.7 240.9 134.5 243.3C134.3 245.6 134.2 247.9 134.1 250.3C134 252.6 133.9 254.9 133.9 257.3C133.8 259.6 133.8 261.9 133.8 264.3C133.8 266.6 133.9 268.9 134 271.3C134 273.6 134 275.9 134.1 278.3C134.1 280.6 134.1 282.9 134.1 285.3C134.1 287.6 134.2 289.9 134.2 292.3C134.2 294.6 134.2 296.9 134.2 299.3C134.3 301.6 134.2 303.9 134.2 306.3C134.2 308.6 134.2 310.9 134.2 313.3C134.2 315.6 134.3 317.9 134.3 320.3C134.4 322.6 134.5 325 134.5 327.3C134.6 329.6 134.6 332 134.7 334.3C134.8 336.6 135 339 135.1 341.3C135.2 343.6 135.2 346 135.3 348.3C135.3 350.6 135.3 353 135.3 355.3C135.3 357.6 135.2 362.3 135.3 362.3C135.4 362.3 135.6 357.6 135.7 355.3C135.9 353 136.1 350.6 136.2 348.3C136.3 346 136.5 343.6 136.5 341.3C136.5 339 136.3 336.6 136.3 334.3C136.2 332 136.2 329.6 136.2 327.3C136.1 325 136.1 322.6 136 320.3C136 317.9 136 315.6 136 313.3C136 310.9 136 308.6 136 306.3C136 303.9 136.1 301.6 136.1 299.3C136.1 296.9 136 294.6 136 292.3C135.9 289.9 135.9 287.6 135.9 285.3C135.8 282.9 135.8 280.6 135.8 278.3C135.7 275.9 135.7 273.6 135.6 271.3C135.5 268.9 135.3 266.6 135.2 264.3C135.1 261.9 135.2 259.6 135.2 257.3C135.1 254.9 135.2 252.6 135.2 250.3C135.2 247.9 135.2 245.6 135.3 243.3C135.3 240.9 135.5 236.2 135.4 236.2Z"/>
<path fill="#e8a24e" d="M135.4 251.2C135.3 251.2 134.9 255 134.7 256.9C134.6 258.7 134.5 260.6 134.5 262.5C134.4 264.3 134.3 266.2 134.3 268.1C134.3 270 134.2 271.8 134.3 273.7C134.3 275.6 134.5 277.4 134.5 279.3C134.6 281.2 134.6 283.1 134.6 284.9C134.7 286.8 134.7 288.7 134.7 290.5C134.7 292.4 134.8 294.3 134.8 296.2C134.8 298 134.8 299.9 134.9 301.8C134.9 303.6 134.8 305.5 134.8 307.4C134.8 309.3 134.8 311.1 134.8 313C134.8 314.9 134.9 316.7 134.9 318.6C135 320.5 135 322.4 135.1 324.2C135.1 326.1 135.2 328 135.2 329.8C135.3 331.7 135.5 333.6 135.6 335.5C135.6 337.3 135.6 339.2 135.6 341.1C135.6 342.9 135.5 344.8 135.4 346.7C135.4 348.6 135.3 352.3 135.3 352.3C135.3 352.3 135.5 348.6 135.7 346.7C135.8 344.8 135.9 342.9 136 341.1C136.1 339.2 136.2 337.3 136.2 335.5C136.2 333.6 136.1 331.7 136 329.8C135.9 328 135.9 326.1 135.8 324.2C135.8 322.4 135.8 320.5 135.7 318.6C135.7 316.7 135.6 314.9 135.6 313C135.6 311.1 135.7 309.3 135.7 307.4C135.7 305.5 135.7 303.6 135.7 301.8C135.7 299.9 135.7 298 135.6 296.2C135.6 294.3 135.6 292.4 135.5 290.5C135.5 288.7 135.5 286.8 135.4 284.9C135.4 283.1 135.4 281.2 135.3 279.3C135.2 277.4 135 275.6 134.9 273.7C134.9 271.8 134.9 270 134.9 268.1C134.9 266.2 134.9 264.3 135 262.5C135 260.6 135 258.7 135.1 256.9C135.2 255 135.5 251.2 135.4 251.2Z"/>
<path fill="#f9cf86" d="M146.6 594C146.6 592 146.7 589.5 146.8 582C146.9 574.5 146.8 559.3 147.1 548.9C147.3 538.5 147.7 526.9 148.3 519.5C148.9 512.1 149.7 508.1 150.8 504.7C152 501.3 153.8 499.4 155.2 499.3C156.5 499.2 157.3 502.4 158.9 504C160.5 505.6 162.8 508.1 164.8 509.1C166.8 510.1 168.8 510.3 170.7 509.9C172.6 509.5 174.3 507.9 176.5 506.9C178.7 505.9 181.7 504.3 183.9 504C186.1 503.7 187.8 503.9 189.8 505.2C191.8 506.4 193.7 509.4 195.9 511.5C198.2 513.6 201.1 516.8 203.3 518C205.5 519.2 206.9 519.2 209.1 518.7C211.3 518.2 214.3 516 216.5 515C218.7 514 220.4 512.9 222.4 512.8C224.4 512.7 226.1 513.1 228.3 514.3C230.5 515.5 233 517.5 235.7 520.2C238.4 522.9 241.8 527 244.5 530.5C247.2 534 249.8 537.5 251.9 541.5C254 545.5 255.7 550.4 257 554.8C258.4 559.2 259.3 563.6 260 568.1C260.7 572.6 261.1 577.7 261.4 582C261.7 586.3 261.6 592 261.6 594Z"/>
<path fill="#fcd78d" d="M148.4 594C148.4 592 148.5 589.5 148.6 582C148.7 574.5 148.7 558.1 148.9 548.9C149.1 539.7 149.3 532.6 150 526.8C150.7 521 152.1 516.8 153 514.3C153.9 511.8 154.6 511.9 155.6 512.1C156.6 512.4 157.6 514.2 158.9 515.8C160.2 517.4 161.8 520.2 163.3 521.7C164.8 523.2 166.2 524.7 167.7 524.9C169.2 525.1 170.4 524.2 172.1 523.1C173.8 522 176 519.4 178 518C180 516.6 182.2 515.2 183.9 514.7C185.6 514.2 186.8 514.4 188.3 515.2C189.8 516 191.2 517.8 192.7 519.5C194.1 521.2 195.5 523.3 197 525.5C198.5 527.7 200.3 531.1 201.8 532.7C203.3 534.3 204.5 535.4 206.2 534.9C207.9 534.4 210.1 531.6 212.1 529.8C214.1 528 216 525.2 218 523.9C220 522.5 221.9 521.7 223.9 521.7C225.9 521.7 227.8 522.5 229.8 523.9C231.8 525.2 233.8 527.3 235.7 529.8C237.6 532.2 239.8 535.4 241.5 538.6C243.2 541.8 244.8 545.2 246 548.9C247.2 552.6 248.2 556.8 248.9 560.7C249.6 564.6 250.1 569 250.4 572.5C250.7 576 250.6 578.4 250.7 582C250.8 585.6 250.8 592 250.8 594L217.2 594C217.1 592 218 585.6 216.5 582C215 578.4 210.4 574.4 208.4 572.5C206.4 570.6 206 570.4 204.7 570.5C203.3 570.6 202.3 571.3 200.3 573.2C198.3 575.1 194.3 578.5 192.9 582C191.5 585.5 192.2 592 192 594L172.6 594C172.5 592 172.6 584.6 172 582C171.4 579.4 169.8 579.3 169 578.6C168.2 577.9 167.7 577.8 167 577.8C166.3 577.8 165.9 577.9 165 578.6C164.1 579.3 162.4 579.4 161.8 582C161.2 584.6 161.3 592 161.2 594Z"/>
<path fill="#fee09c" d="M155.9 525.3C155.1 525.7 153.9 529.3 153.2 532C152.5 534.7 151.8 537.5 151.5 541.5C151.2 545.5 150.9 552.2 151.2 556.3C151.4 560.4 152.3 563.4 153 566C153.7 568.6 154.4 571.2 155.2 571.7C156 572.2 157 570.4 158 569C159 567.6 160 566.7 161.1 563.6C162.2 560.5 164.2 553.8 164.5 550.4C164.8 547 163.7 545.5 163 543C162.3 540.5 161.1 538 160.3 535.7C159.5 533.5 158.7 531.2 158 529.5C157.3 527.8 156.7 524.9 155.9 525.3Z"/>
<path fill="#fee09c" d="M183.9 526.1C182.7 526.5 181.2 528.4 180 530C178.8 531.6 177.8 532.6 176.5 535.7C175.2 538.9 172.6 544.7 172.1 548.9C171.6 553.1 172.4 556.8 173.6 560.7C174.8 564.6 177.5 569.9 179.5 572.5C181.5 575.1 183.6 576.5 185.4 576.2C187.2 576 189 573.4 190.5 571C192 568.6 193.7 565.5 194.6 562C195.5 558.5 196 553.6 195.9 550C195.8 546.4 195.1 543.2 194.2 540.1C193.3 537 191.6 533.3 190.5 531.2C189.4 529.1 188.6 528.4 187.5 527.5C186.4 526.6 185.2 525.7 183.9 526.1Z"/>
<path fill="#fee09c" d="M224.6 534.2C223.6 534.5 222.5 535.8 221.5 537C220.5 538.2 219.6 538.8 218.7 541.5C217.8 544.2 216.2 549.6 215.8 553.3C215.4 557 215.8 560.2 216.5 563.6C217.2 567 218.7 571.1 220.2 573.9C221.7 576.7 223.8 579.3 225.3 580.6C226.8 581.9 227.7 582.2 229 581.6C230.3 581 232.1 579.4 233.4 576.9C234.7 574.4 236.1 570 236.8 566.6C237.5 563.2 237.7 559.7 237.4 556.3C237.1 552.9 236.1 549.1 234.9 546C233.8 542.9 231.7 539.7 230.5 537.9C229.3 536.1 228.5 535.6 227.5 535C226.5 534.4 225.6 533.9 224.6 534.2Z"/>
<path fill="#f9cf86" d="M135.3 509.9C135 509.9 134.6 512.9 134.3 514.5C134.1 516 134 517.5 133.9 519C133.8 520.6 133.7 522.1 133.7 523.6C133.6 525.1 133.5 526.7 133.5 528.2C133.4 529.7 133.4 531.2 133.4 532.8C133.4 534.3 133.4 535.8 133.4 537.3C133.4 538.9 133.4 540.4 133.5 541.9C133.5 543.4 133.5 544.9 133.6 546.5C133.6 548 133.7 549.5 133.8 551C133.8 552.6 133.9 554.1 134 555.6C134 557.1 134.1 558.7 134.2 560.2C134.3 561.7 134.4 563.2 134.5 564.8C134.6 566.3 134.7 567.8 134.8 569.3C135 570.9 135.1 573.9 135.3 573.9C135.5 573.9 135.7 570.9 135.8 569.3C136 567.8 136.1 566.3 136.2 564.8C136.3 563.2 136.5 561.7 136.6 560.2C136.7 558.7 136.8 557.1 136.8 555.6C136.9 554.1 137 552.6 137.1 551C137.2 549.5 137.2 548 137.3 546.5C137.3 544.9 137.4 543.4 137.4 541.9C137.5 540.4 137.5 538.9 137.5 537.3C137.5 535.8 137.5 534.3 137.5 532.8C137.5 531.2 137.4 529.7 137.4 528.2C137.3 526.7 137.3 525.1 137.2 523.6C137.1 522.1 137 520.6 136.9 519C136.8 517.5 136.7 516 136.4 514.5C136.1 512.9 135.6 509.9 135.3 509.9Z"/>
<path fill="#e8a24e" d="M135.3 534C135.2 534 135.2 534.8 135.1 535.2C135.1 535.6 135.1 536 135 536.4C135 536.8 135 537.1 135 537.5C135 537.9 135 538.3 135 538.7C135 539.1 135 539.5 135 539.9C134.9 540.3 134.9 540.7 135 541.1C135 541.5 135 541.9 135 542.2C135 542.6 135 543 135 543.4C135 543.8 135 544.2 135 544.6C135 545 135 545.4 135.1 545.8C135.1 546.2 135.1 546.6 135.1 547C135.1 547.4 135.1 547.8 135.2 548.1C135.2 548.5 135.2 548.9 135.2 549.3C135.2 549.7 135.3 550.5 135.3 550.5C135.3 550.5 135.4 549.7 135.4 549.3C135.4 548.9 135.4 548.5 135.4 548.1C135.5 547.8 135.5 547.4 135.5 547C135.5 546.6 135.5 546.2 135.5 545.8C135.6 545.4 135.6 545 135.6 544.6C135.6 544.2 135.6 543.8 135.6 543.4C135.6 543 135.6 542.6 135.6 542.2C135.6 541.9 135.6 541.5 135.6 541.1C135.7 540.7 135.7 540.3 135.6 539.9C135.6 539.5 135.6 539.1 135.6 538.7C135.6 538.3 135.6 537.9 135.6 537.5C135.6 537.1 135.6 536.8 135.6 536.4C135.5 536 135.5 535.6 135.5 535.2C135.4 534.8 135.4 534 135.3 534Z"/>
<path fill="#7e7b8b" d="M161.3 58C161.3 60.1 161.1 68 161.5 70.7C161.9 73.5 163.1 73.6 164 74.5C164.9 75.4 165.8 76 167 76.3C168.2 76.6 170.2 76.6 171.5 76.3C172.8 76 173.6 75.4 174.5 74.5C175.4 73.6 176.4 73.5 176.8 70.7C177.2 68 177 60.1 177 58Z"/>
<path fill="#f9cf86" d="M136.8 58C136.8 60.1 136.6 67.9 137 70.7C137.4 73.5 138.8 73.8 139.5 75C140.2 76.2 140.6 77.9 141.3 78C142.1 78.1 143 76.7 144 75.5C145 74.3 146.6 73.6 147.2 70.7C147.8 67.8 147.4 60.1 147.4 58Z"/>
<path fill="#fee09c" d="M138.4 58C138.4 60.1 138.3 68.1 138.6 70.7C138.9 73.3 139.8 72.8 140.3 73.6C140.8 74.4 140.9 75.4 141.4 75.4C141.9 75.4 142.5 74.6 143.2 73.8C143.9 73 145 73.3 145.4 70.7C145.8 68.1 145.6 60.1 145.6 58Z"/>
<path fill="#4064a5" d="M126 58C126.9 58 130.3 55.9 131.2 58C132.1 60.1 131.4 67.9 131.4 70.7C131.4 73.5 131.4 73.4 131.2 75C131 76.6 131.3 79.3 130.4 80.5C129.5 81.7 126.7 81.8 126 82Z"/>
<path fill="#fcd78d" d="M619.5 58C619.6 60.1 619.6 68.1 620 70.7C620.4 73.3 621.2 73 622 73.8C622.8 74.6 624 75.3 625 75.3C626 75.3 627.2 74.6 628 73.8C628.8 73 629.6 73.3 630 70.7C630.4 68.1 630.4 60.1 630.5 58Z"/>
</g>
<rect x="129.4" y="71" width="511.5" height="510.9" fill="none" stroke="#e8a24e" stroke-width="1" stroke-dasharray="1.6 3.4"/>
<g stroke="#000" stroke-width="1" fill="none">
<rect x="120" y="61.5" width="530.5" height="530.5"/>
<path d="M130.5 592v-6.8M130.5 61.5v6.2M120 581.5h6.8M650.5 581.5h-6.8M157.6 592v-6.8M157.6 61.5v6.2M120 554.4h6.8M650.5 554.4h-6.8M218.7 592v-6.8M218.7 61.5v6.2M120 493.3h6.8M650.5 493.3h-6.8M248.6 592v-6.8M248.6 61.5v6.2M120 463.4h6.8M650.5 463.4h-6.8M301.9 592v-6.8M301.9 61.5v6.2M120 410.1h6.8M650.5 410.1h-6.8M355 592v-6.8M355 61.5v6.2M120 357h6.8M650.5 357h-6.8M422.6 592v-6.8M422.6 61.5v6.2M120 289.4h6.8M650.5 289.4h-6.8M470.5 592v-6.8M470.5 61.5v6.2M120 241.5h6.8M650.5 241.5h-6.8M508.8 592v-6.8M508.8 61.5v6.2M120 203.2h6.8M650.5 203.2h-6.8M541.3 592v-6.8M541.3 61.5v6.2M120 170.7h6.8M650.5 170.7h-6.8M569.8 592v-6.8M569.8 61.5v6.2M120 142.2h6.8M650.5 142.2h-6.8M595.4 592v-6.8M595.4 61.5v6.2M120 116.6h6.8M650.5 116.6h-6.8M618.6 592v-6.8M618.6 61.5v6.2M120 93.4h6.8M650.5 93.4h-6.8M640 592v-6.8M640 61.5v6.2M120 72h6.8M650.5 72h-6.8"/>
</g>
<g font-family="'Liberation Sans', Arial, Helvetica, sans-serif" fill="#000" stroke="#000" stroke-width=".18">
<text transform="translate(385.4 32) scale(1 1.035)" font-size="22.6" text-anchor="middle">Correlations between Fanto10_15 PDFs</text>
<text transform="translate(130.8 613.9) scale(1 1.035)" font-size="18.9" text-anchor="middle">10<tspan font-size="12.2" dy="-7.6">−4</tspan></text>
<text transform="translate(165.9 613.9) scale(1 1.035)" font-size="18.9" text-anchor="middle">10<tspan font-size="12.2" dy="-7.6">−3</tspan></text>
<text transform="translate(215.1 613.6) scale(1 1.035)" font-size="18.9" text-anchor="middle">0.01</text>
<text transform="translate(257.3 613.6) scale(1 1.035)" font-size="18.9" text-anchor="middle">0.02</text>
<text transform="translate(301.9 613.6) scale(1 1.035)" font-size="18.9" text-anchor="middle">0.05</text>
<text transform="translate(355 613.6) scale(1 1.035)" font-size="18.9" text-anchor="middle">0.1</text>
<text transform="translate(422.6 613.6) scale(1 1.035)" font-size="18.9" text-anchor="middle">0.2</text>
<text transform="translate(541.3 613.6) scale(1 1.035)" font-size="18.9" text-anchor="middle">0.5</text>
<text transform="translate(595.4 613.6) scale(1 1.035)" font-size="18.9" text-anchor="middle">0.7</text>
<text transform="translate(640 613.6) scale(1 1.035)" font-size="18.9" text-anchor="middle">0.9</text>
<text transform="translate(116.4 589.9) scale(1 1.035)" font-size="18.9" text-anchor="end">10<tspan font-size="12.2" dy="-7.6">−4</tspan></text>
<text transform="translate(116.4 562.8) scale(1 1.035)" font-size="18.9" text-anchor="end">10<tspan font-size="12.2" dy="-7.6">−3</tspan></text>
<text transform="translate(116.4 500.4) scale(1 1.035)" font-size="18.9" text-anchor="end">0.01</text>
<text transform="translate(116.4 470.5) scale(1 1.035)" font-size="18.9" text-anchor="end">0.02</text>
<text transform="translate(116.4 417.2) scale(1 1.035)" font-size="18.9" text-anchor="end">0.05</text>
<text transform="translate(116.4 364.1) scale(1 1.035)" font-size="18.9" text-anchor="end">0.1</text>
<text transform="translate(116.4 296.5) scale(1 1.035)" font-size="18.9" text-anchor="end">0.2</text>
<text transform="translate(116.4 177.8) scale(1 1.035)" font-size="18.9" text-anchor="end">0.5</text>
<text transform="translate(116.4 123.7) scale(1 1.035)" font-size="18.9" text-anchor="end">0.7</text>
<text transform="translate(116.4 79.1) scale(1 1.035)" font-size="18.9" text-anchor="end">0.9</text>
<text transform="translate(385.5 644.6) scale(1 1.035)" font-size="18.9" text-anchor="middle">x in xV</text>
<text transform="translate(385.5 670.6) scale(1 1.035)" font-size="18.9" text-anchor="middle">at Q=2 GeV</text>
<text transform="translate(25.8 327) rotate(-90) scale(1 1.035)" font-size="18.9" text-anchor="middle">x in xS</text>
<text transform="translate(50 327) rotate(-90) scale(1 1.035)" font-size="18.9" text-anchor="middle">at Q=2 GeV</text>
</g>
<g shape-rendering="crispEdges">
<rect x="670.2" y="33.3" width="16.9" height="55.4" fill="#fedc96"/>
<rect x="670.2" y="88.4" width="16.9" height="55.4" fill="#ffebb4"/>
<rect x="670.2" y="143.5" width="16.9" height="55.4" fill="#fee09c"/>
<rect x="670.2" y="198.6" width="16.9" height="55.4" fill="#fcd78d"/>
<rect x="670.2" y="253.7" width="16.9" height="55.4" fill="#f9cf86"/>
<rect x="670.2" y="308.8" width="16.9" height="55.4" fill="#e8a24e"/>
<rect x="670.2" y="364" width="16.9" height="55.4" fill="#7e7b8b"/>
<rect x="670.2" y="419.1" width="16.9" height="55.4" fill="#667198"/>
<rect x="670.2" y="474.2" width="16.9" height="55.4" fill="#506ca8"/>
<rect x="670.2" y="529.3" width="16.9" height="55.4" fill="#4064a5"/>
<rect x="670.2" y="584.4" width="16.9" height="55.4" fill="#2d5a91"/>
</g>
<rect x="670.2" y="33.3" width="16.9" height="606.2" fill="none" stroke="#000" stroke-opacity=".42" stroke-width=".8"/>
<path d="M670.2 88.4H692.1M670.2 143.5H692.1M670.2 198.6H692.1M670.2 253.7H692.1M670.2 308.8H692.1M670.2 364H692.1M670.2 419.1H692.1M670.2 474.2H692.1M670.2 529.3H692.1M670.2 584.4H692.1" stroke="#000" stroke-opacity=".66" stroke-width=".8" fill="none"/>
<g font-family="'Liberation Sans', Arial, Helvetica, sans-serif" font-size="10.4" fill="#4d4d4d">
<text x="695.8" y="92.2">0.9</text>
<text x="695.8" y="147.3">0.8</text>
<text x="695.8" y="202.4">0.7</text>
<text x="695.8" y="257.5">0.6</text>
<text x="695.8" y="312.6">0.5</text>
<text x="695.8" y="367.8">−0.5</text>
<text x="695.8" y="422.9">−0.6</text>
<text x="695.8" y="478">−0.7</text>
<text x="695.8" y="533.1">−0.8</text>
<text x="695.8" y="588.2">−0.9</text>
</g>
</svg>
</body>
</html>
